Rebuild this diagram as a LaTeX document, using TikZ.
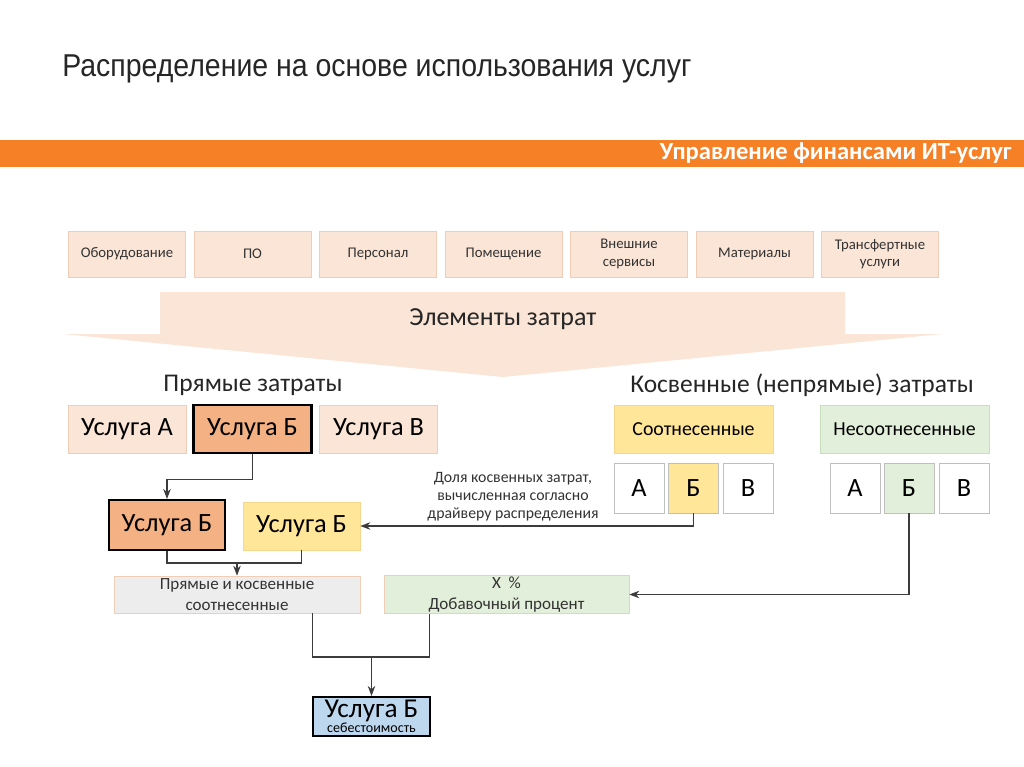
\documentclass[tikz,border=0pt]{standalone}
\usepackage{fontspec}
\setmainfont{Carlito}
\newfontfamily\titlefont[FakeStretch=0.9]{Liberation Sans}
\usetikzlibrary{arrows.meta, positioning, calc}

\definecolor{barorange}{RGB}{245,128,38}
\definecolor{peach}{RGB}{251,229,214}
\definecolor{peachline}{RGB}{240,205,182}
\definecolor{darkpeach}{RGB}{244,177,131}
\definecolor{softyellow}{RGB}{255,230,153}
\definecolor{yellowline}{RGB}{244,214,140}
\definecolor{softgreen}{RGB}{226,239,218}
\definecolor{greenline}{RGB}{200,222,190}
\definecolor{softgray}{RGB}{237,237,237}
\definecolor{softblue}{RGB}{189,215,238}
\definecolor{wire}{RGB}{60,60,60}

\tikzset{
  element/.style={draw=peachline, fill=peach, minimum width=2.34cm, minimum height=0.92cm,
    align=center, font=\fontsize{8.4}{10}\selectfont, text=black!80},
  service/.style={draw=peachline, fill=peach, minimum width=2.36cm, minimum height=0.96cm,
    font=\fontsize{15}{17}\selectfont},
  chosen/.style={service, draw=black, fill=darkpeach, line width=1.2pt},
  share/.style={draw=black!25, fill=white, minimum width=1cm, minimum height=1cm,
    font=\fontsize{15}{17}\selectfont},
  sumbox/.style={minimum width=4.92cm, minimum height=0.74cm, align=center, inner sep=1pt,
    font=\fontsize{9.7}{11.5}\selectfont, text=black!80},
  heading/.style={font=\fontsize{14.5}{17}\selectfont, text=black!85},
  wire/.style={draw=wire, line width=0.6pt},
}

\begin{document}
\begin{tikzpicture}[>=Stealth, x=0.02cm, y=-0.02cm]
    \useasboundingbox (0,0) rectangle (1024,767);
    \fill[white] (0,0) rectangle (1024,767);

    % Title and header bar
    \node[anchor=base west, inner sep=0pt, font=\titlefont\fontsize{18}{21}\selectfont, text=black!85] (title) at (62,77)
        {Распределение на основе использования услуг};
    \fill[barorange] (0,140) rectangle (1024,167);
    \node[anchor=east, inner sep=0pt, font=\fontsize{14}{16}\selectfont\bfseries, text=white] (header) at (1012,153)
        {Управление финансами ИТ-услуг};

    % Cost elements
    \node[element] (hw) at (127,254) {Оборудование};
    \node[element] (sw) at (252.5,254) {ПО};
    \node[element] (staff) at (378,254) {Персонал};
    \node[element] (room) at (503.5,254) {Помещение};
    \node[element] (ext) at (629,254) {Внешние\\сервисы};
    \node[element] (mat) at (754.5,254) {Материалы};
    \node[element] (trans) at (880,254) {Трансфертные\\услуги};

    % Big arrow
    \fill[peach] (160,292) -- (845,292) -- (845,334) -- (942,334) -- (503,377)
        -- (63,334) -- (160,334) -- cycle;
    \node[font=\fontsize{14.8}{17}\selectfont, text=black!85] (elements) at (503,319) {Элементы затрат};

    % Direct costs
    \node[heading] (direct) at (253,385) {Прямые затраты};
    \node[service] (svcA) at (127,429) {Услуга А};
    \node[chosen] (svcB) at (252.5,429) {Услуга Б};
    \node[service] (svcV) at (378.5,429) {Услуга В};

    % Indirect costs
    \node[heading] (indirect) at (802,385) {Косвенные (непрямые) затраты};
    \node[draw=yellowline, fill=softyellow, minimum width=3.18cm, minimum height=0.96cm,
        font=\fontsize{11.3}{13}\selectfont] (alloc) at (693.5,429) {Соотнесенные};
    \node[draw=greenline, fill=softgreen, minimum width=3.38cm, minimum height=0.96cm,
        font=\fontsize{11.3}{13}\selectfont] (unalloc) at (904.5,429) {Несоотнесенные};
    \node[share] (alcA) at (639,488) {А};
    \node[share, fill=softyellow] (alcB) at (693.5,488) {Б};
    \node[share] (alcV) at (748,488) {В};
    \node[share] (unaA) at (855,488) {А};
    \node[share, fill=softgreen] (unaB) at (909,488) {Б};
    \node[share] (unaV) at (964,488) {В};

    \node[align=center, font=\fontsize{9}{10.3}\selectfont, text=black!80] (note) at (513,497)
        {Доля косвенных затрат,\\вычисленная согласно\\драйверу распределения};

    % Service B parts
    \node[chosen, minimum width=2.32cm, minimum height=1cm] (dirB) at (167,525) {Услуга Б};
    \node[service, draw=yellowline, fill=softyellow, minimum width=2.34cm] (indB) at (301.5,526) {Услуга Б};

    \node[sumbox, draw=peachline, fill=softgray] (sumD) at (237,594.5) {Прямые и косвенные\\соотнесенные};
    \node[sumbox, draw=peachline, fill=softgreen, minimum width=4.9cm] (markup) at (506.5,594.5) {X \ \%\\Добавочный процент};

    % Final cost
    \node[draw=black, line width=1.2pt, fill=softblue, minimum width=2.34cm, minimum height=0.78cm] (cost) at (371.5,716.5) {};
    \node[anchor=base, inner sep=0pt, font=\fontsize{15.5}{16}\selectfont] (costname) at (371.5,717) {Услуга Б};
    \node[anchor=base, inner sep=0pt, font=\fontsize{8}{9}\selectfont] (costnote) at (371.5,732) {себестоимость};

    % Connectors
    \coordinate (jn1) at (237,563);
    \coordinate (jn2) at (371.5,657);
    \draw[wire, ->] (svcB.south) -- ++(0,25) -| (dirB.north);
    \draw[wire, ->] (alcB.south) |- (indB.east);
    \draw[wire, ->] (unaB.south) |- (markup.east);
    \draw[wire] (dirB.south) |- (jn1) -| (indB.south);
    \draw[wire, ->] (jn1) -- (sumD.north);
    \draw[wire] ($(sumD.south east)+(-48,0)$) |- (jn2) -| ($(markup.south west)+(46,0)$);
    \draw[wire, ->] (jn2) -- (cost.north);
\end{tikzpicture}
\end{document}
